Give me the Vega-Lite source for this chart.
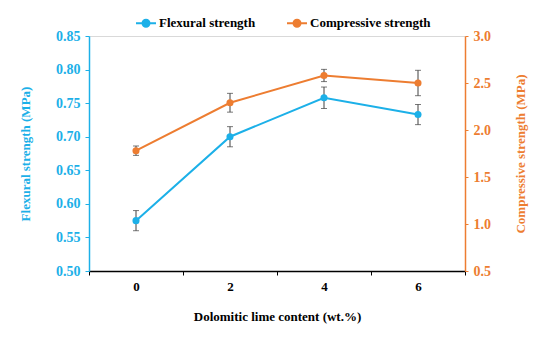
{
  "$schema": "https://vega.github.io/schema/vega-lite/v6.json",
  "width": 376,
  "height": 235,
  "autosize": "none",
  "padding": {"left": 89, "top": 36, "right": 85, "bottom": 67},
  "background": "white",
  "data": {
    "values": [
      {"content": "0", "series": "Flexural strength", "value": 0.575, "lo": 0.560, "hi": 0.590},
      {"content": "2", "series": "Flexural strength", "value": 0.700, "lo": 0.685, "hi": 0.715},
      {"content": "4", "series": "Flexural strength", "value": 0.758, "lo": 0.742, "hi": 0.774},
      {"content": "6", "series": "Flexural strength", "value": 0.733, "lo": 0.718, "hi": 0.748},
      {"content": "0", "series": "Compressive strength", "value": 1.78, "lo": 1.73, "hi": 1.83},
      {"content": "2", "series": "Compressive strength", "value": 2.29, "lo": 2.19, "hi": 2.39},
      {"content": "4", "series": "Compressive strength", "value": 2.58, "lo": 2.515, "hi": 2.645},
      {"content": "6", "series": "Compressive strength", "value": 2.50, "lo": 2.365, "hi": 2.635}
    ]
  },
  "encoding": {
    "x": {
      "field": "content",
      "type": "ordinal",
      "sort": ["0", "2", "4", "6"],
      "scale": {"type": "band", "paddingInner": 0, "paddingOuter": 0},
      "title": "Dolomitic lime content (wt.%)",
      "axis": {"labelAngle": 0, "tickBand": "extent"}
    }
  },
  "layer": [
    {
      "transform": [{"filter": "datum.series === 'Flexural strength'"}],
      "layer": [
        {
          "mark": {"type": "rule", "color": "#404040", "strokeWidth": 1},
          "encoding": {
            "y": {"field": "lo", "type": "quantitative", "title": "Flexural strength (MPa)",
                  "scale": {"domain": [0.5, 0.85], "nice": false, "zero": false},
                  "axis": {"orient": "left", "values": [0.5, 0.55, 0.6, 0.65, 0.7, 0.75, 0.8, 0.85], "format": ".2f"}},
            "y2": {"field": "hi"}
          }
        },
        {
          "mark": {"type": "tick", "color": "#404040", "size": 6, "thickness": 1},
          "encoding": {
            "y": {"field": "lo", "type": "quantitative", "title": "Flexural strength (MPa)",
                  "axis": {"orient": "left", "values": [0.5, 0.55, 0.6, 0.65, 0.7, 0.75, 0.8, 0.85], "format": ".2f"}}
          }
        },
        {
          "mark": {"type": "tick", "color": "#404040", "size": 6, "thickness": 1},
          "encoding": {
            "y": {"field": "hi", "type": "quantitative", "title": "Flexural strength (MPa)",
                  "axis": {"orient": "left", "values": [0.5, 0.55, 0.6, 0.65, 0.7, 0.75, 0.8, 0.85], "format": ".2f"}}
          }
        },
        {
          "mark": {"type": "line", "strokeWidth": 2, "point": {"filled": true, "size": 50}},
          "encoding": {
            "y": {"field": "value", "type": "quantitative", "title": "Flexural strength (MPa)",
                  "axis": {"orient": "left", "values": [0.5, 0.55, 0.6, 0.65, 0.7, 0.75, 0.8, 0.85], "format": ".2f"}},
            "color": {
              "field": "series",
              "type": "nominal",
              "title": null,
              "scale": {"domain": ["Flexural strength", "Compressive strength"], "range": ["#1CB0E8", "#ED7D31"]},
              "legend": {
                "orient": "none",
                "legendX": 46,
                "legendY": -24,
                "direction": "horizontal",
                "symbolType": "M-1,0L1,0M0.35,0A0.35,0.35,0,1,1,-0.35,0A0.35,0.35,0,1,1,0.35,0Z",
                "encode": {"symbols": {"update": {"fill": {"scale": "color", "field": "value"}, "stroke": {"scale": "color", "field": "value"}, "strokeWidth": {"value": 2}, "opacity": {"value": 1}}}}
              }
            }
          }
        }
      ]
    },
    {
      "transform": [{"filter": "datum.series === 'Compressive strength'"}],
      "layer": [
        {
          "mark": {"type": "rule", "color": "#404040", "strokeWidth": 1},
          "encoding": {
            "y": {"field": "lo", "type": "quantitative", "title": "Compressive strength (MPa)",
                  "scale": {"domain": [0.5, 3.0], "nice": false, "zero": false},
                  "axis": {"orient": "right", "values": [0.5, 1.0, 1.5, 2.0, 2.5, 3.0], "format": ".1f"}},
            "y2": {"field": "hi"}
          }
        },
        {
          "mark": {"type": "tick", "color": "#404040", "size": 6, "thickness": 1},
          "encoding": {
            "y": {"field": "lo", "type": "quantitative", "title": "Compressive strength (MPa)",
                  "axis": {"orient": "right", "values": [0.5, 1.0, 1.5, 2.0, 2.5, 3.0], "format": ".1f"}}
          }
        },
        {
          "mark": {"type": "tick", "color": "#404040", "size": 6, "thickness": 1},
          "encoding": {
            "y": {"field": "hi", "type": "quantitative", "title": "Compressive strength (MPa)",
                  "axis": {"orient": "right", "values": [0.5, 1.0, 1.5, 2.0, 2.5, 3.0], "format": ".1f"}}
          }
        },
        {
          "mark": {"type": "line", "strokeWidth": 2, "point": {"filled": true, "size": 50}},
          "encoding": {
            "y": {"field": "value", "type": "quantitative", "title": "Compressive strength (MPa)",
                  "axis": {"orient": "right", "values": [0.5, 1.0, 1.5, 2.0, 2.5, 3.0], "format": ".1f"}},
            "color": {
              "field": "series",
              "type": "nominal",
              "title": null,
              "scale": {"domain": ["Flexural strength", "Compressive strength"], "range": ["#1CB0E8", "#ED7D31"]},
              "legend": {
                "orient": "none",
                "legendX": 46,
                "legendY": -24,
                "direction": "horizontal",
                "symbolType": "M-1,0L1,0M0.35,0A0.35,0.35,0,1,1,-0.35,0A0.35,0.35,0,1,1,0.35,0Z",
                "encode": {"symbols": {"update": {"fill": {"scale": "color", "field": "value"}, "stroke": {"scale": "color", "field": "value"}, "strokeWidth": {"value": 2}, "opacity": {"value": 1}}}}
              }
            }
          }
        }
      ]
    }
  ],
  "resolve": {"scale": {"y": "independent"}, "axis": {"y": "independent"}},
  "config": {
    "font": "Liberation Serif",
    "view": {"stroke": "#d9d9d9"},
    "axis": {"grid": false, "labelOverlap": false, "labelFontWeight": "bold", "titleFontWeight": "bold", "titleFontSize": 13},
    "axisBottom": {
      "domainColor": "#000000", "domainWidth": 1.5, "tickColor": "#000000", "tickSize": 4,
      "labelPadding": 5, "labelColor": "#000000", "labelFontSize": 13, "titleColor": "#000000", "titlePadding": 17
    },
    "axisLeft": {
      "domainColor": "#1CB0E8", "domainWidth": 1.5, "tickColor": "#1CB0E8", "tickSize": 4,
      "labelPadding": 5, "labelColor": "#1CB0E8", "labelFontSize": 14, "titleColor": "#1CB0E8", "titlePadding": 23
    },
    "axisRight": {
      "domainColor": "#ED7D31", "domainWidth": 1.5, "tickColor": "#ED7D31", "tickSize": 3,
      "labelPadding": 5, "labelColor": "#ED7D31", "labelFontSize": 14, "titleColor": "#ED7D31", "titlePadding": 37, "titleAngle": 270
    },
    "legend": {
      "labelFont": "Liberation Serif",
      "labelFontSize": 13,
      "labelFontWeight": "bold",
      "labelColor": "#000000",
      "labelOffset": 2,
      "symbolSize": 400,
      "symbolStrokeWidth": 2,
      "columnPadding": 27
    }
  }
}
